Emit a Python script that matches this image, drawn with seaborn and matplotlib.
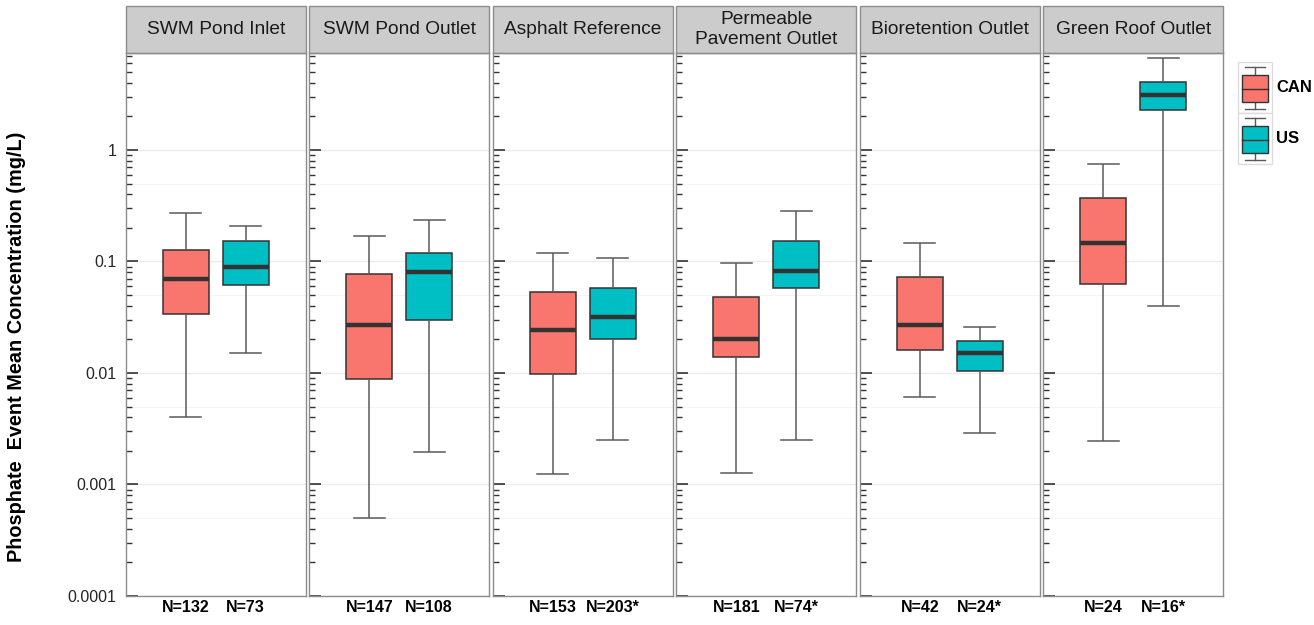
import matplotlib.pyplot as plt
import numpy as np
import pandas as pd
import seaborn as sns
from matplotlib.patches import Rectangle
from matplotlib.lines import Line2D
from matplotlib.legend_handler import HandlerBase
from matplotlib.ticker import FixedLocator, LogLocator, NullFormatter

# --- data ---
sites = ["SWM Pond Inlet", "SWM Pond Outlet", "Asphalt Reference",
         "Permeable\nPavement Outlet", "Bioretention Outlet", "Green Roof Outlet"]
countries = ["CAN", "US"]

# five-number summaries per site: lower whisker, Q1, median, Q3, upper whisker (mg/L)
can_stats = [
    [0.0040, 0.034, 0.070, 0.127, 0.27],
    [0.0005, 0.0088, 0.027, 0.077, 0.17],
    [0.00124, 0.0098, 0.0243, 0.053, 0.119],
    [0.00127, 0.0139, 0.0202, 0.048, 0.097],
    [0.0061, 0.0161, 0.0269, 0.0726, 0.146],
    [0.00246, 0.0628, 0.147, 0.371, 0.748],
]
us_stats = [
    [0.0151, 0.0615, 0.0893, 0.153, 0.208],
    [0.00195, 0.0299, 0.0805, 0.119, 0.236],
    [0.0025, 0.0202, 0.0318, 0.0578, 0.107],
    [0.0025, 0.0578, 0.0822, 0.153, 0.284],
    [0.0029, 0.0104, 0.0151, 0.0194, 0.0259],
    [0.0399, 2.28, 3.11, 4.07, 6.69],
]
can_n = ["N=132", "N=147", "N=153", "N=181", "N=42", "N=24"]
us_n = ["N=73", "N=108", "N=203*", "N=74*", "N=24*", "N=16*"]

palette = {"CAN": "#F8766D", "US": "#00BFC4"}
y_major = [1e-4, 1e-3, 1e-2, 1e-1, 1]
y_major_labels = ["0.0001", "0.001", "0.01", "0.1", "1"]
y_half = [5e-4, 5e-3, 5e-2, 5e-1]

rows = []
for i, site in enumerate(sites):
    for country, stats in (("CAN", can_stats[i]), ("US", us_stats[i])):
        for v in stats:
            rows.append({"site": site, "country": country, "value": v})
df = pd.DataFrame(rows)

# --- plot ---
plt.rcParams["font.family"] = ["Liberation Sans", "DejaVu Sans"]
fig, axes = plt.subplots(1, 6, figsize=(13.14, 6.25), dpi=100, sharey=True)
fig.subplots_adjust(left=126 / 1314, right=1223 / 1314,
                    top=1 - 53 / 625, bottom=1 - 596 / 625, wspace=0.022)

edge = "#333333"
for i, ax in enumerate(axes):
    sub = df[df["site"] == sites[i]]
    sns.boxplot(data=sub, x="country", y="value", hue="country", order=countries,
                hue_order=countries, palette=palette, saturation=1, whis=(0, 100),
                width=0.77, linecolor=edge, legend=False, ax=ax,
                capwidths=0.52,
                boxprops={"linewidth": 1.1, "edgecolor": edge},
                medianprops={"color": edge, "linewidth": 3.2},
                whiskerprops={"color": "#5a5a5a", "linewidth": 1.1},
                capprops={"color": "#5a5a5a", "linewidth": 1.1})
    ax.set_yscale("log")
    ax.set_ylim(1e-4, 7.4)
    ax.set_xlim(-1, 2)
    ax.set_xlabel("")
    ax.set_ylabel("")
    ax.set_facecolor("white")

    for y in y_major:
        ax.axhline(y, color="#ebebeb", lw=1, zorder=0)
    for y in y_half:
        ax.axhline(y, color="#f4f4f4", lw=0.8, zorder=0)

    ax.yaxis.set_major_locator(FixedLocator(y_major))
    ax.yaxis.set_minor_locator(LogLocator(base=10, subs=np.arange(2, 10)))
    ax.yaxis.set_minor_formatter(NullFormatter())
    ax.tick_params(axis="y", which="major", direction="in", length=8.5,
                   width=1.2, color="#333333", labelsize=11.5, labelcolor="#262626", pad=7)
    ax.tick_params(axis="y", which="minor", direction="in", length=4,
                   width=1, color="#333333")
    ax.set_xticks([0, 1])
    ax.set_xticklabels([can_n[i], us_n[i]], fontsize=11.5, fontweight="bold")
    ax.tick_params(axis="x", length=0, pad=3)

    for sp in ax.spines.values():
        sp.set_color("#8c8c8c")
        sp.set_linewidth(1)

    # facet strip
    strip_h = 47 / 543
    ax.add_patch(Rectangle((0, 1), 1, strip_h, transform=ax.transAxes, clip_on=False,
                           facecolor="#cccccc", edgecolor="#8c8c8c", lw=1))
    ax.text(0.5, 1 + strip_h / 2, sites[i], transform=ax.transAxes, ha="center",
            va="center", fontsize=13.8, color="#1a1a1a", linespacing=1.3)

axes[0].set_yticklabels(y_major_labels)
fig.text(17 / 1314, 1 - 347 / 625, "Phosphate  Event Mean Concentration (mg/L)",
         rotation=90, ha="center", va="center", fontsize=14.3, fontweight="bold")


class BoxKey(HandlerBase):
    def create_artists(self, legend, orig_handle, xdescent, ydescent, width, height,
                       fontsize, trans):
        x0, y0 = -xdescent, -ydescent
        c = orig_handle.get_facecolor()
        frame = Rectangle((x0, y0), width, height, facecolor="white",
                          edgecolor="#dcdcdc", lw=1, transform=trans)
        cx = x0 + width / 2
        w1 = Line2D([cx, cx], [y0 + 0.08 * height, y0 + 0.9 * height],
                    color="#5a5a5a", lw=1, transform=trans)
        cap1 = Line2D([cx - 0.3 * width, cx + 0.3 * width], [y0 + 0.08 * height] * 2,
                      color="#5a5a5a", lw=1, transform=trans)
        cap2 = Line2D([cx - 0.3 * width, cx + 0.3 * width], [y0 + 0.9 * height] * 2,
                      color="#5a5a5a", lw=1, transform=trans)
        box = Rectangle((x0 + 0.105 * width, y0 + 0.21 * height), 0.79 * width,
                        0.535 * height, facecolor=c, edgecolor=edge, lw=1, transform=trans)
        med = Line2D([x0 + 0.105 * width, x0 + 0.895 * width], [y0 + 0.48 * height] * 2,
                     color=edge, lw=1, transform=trans)
        return [frame, w1, cap1, cap2, box, med]


handles = [Rectangle((0, 0), 1, 1, facecolor=palette[c]) for c in countries]
fig.legend(handles, countries, handler_map={Rectangle: BoxKey()},
           loc="upper left", bbox_to_anchor=(1238 / 1314, 1 - 62 / 625),
           frameon=False, borderpad=0, borderaxespad=0,
           prop={"size": 12, "weight": "bold"},
           handlelength=2.04, handleheight=4.33, labelspacing=0, handletextpad=0.25)

fig.savefig("out.png", dpi=100)
